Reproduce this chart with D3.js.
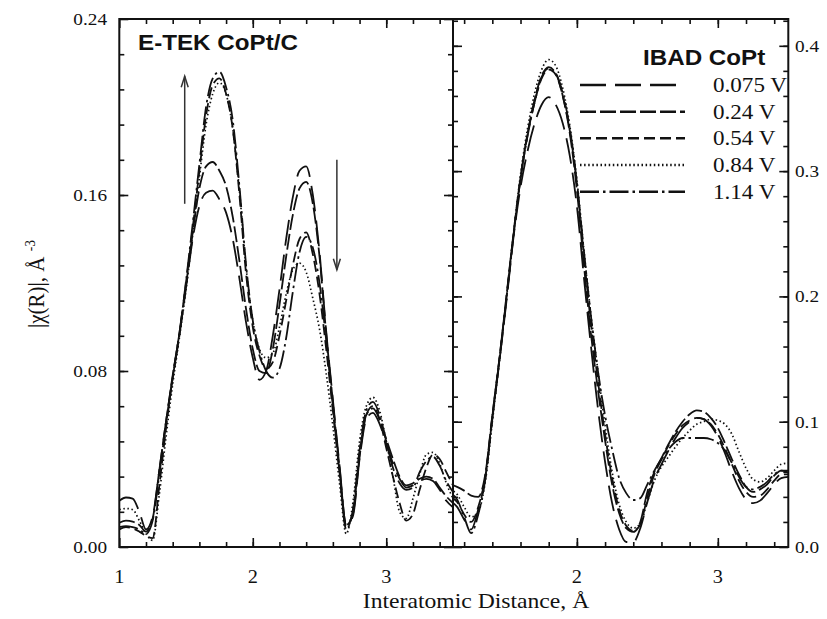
<!DOCTYPE html>
<html><head><meta charset="utf-8">
<script src="https://cdn.jsdelivr.net/npm/d3@7/dist/d3.min.js"></script>
<style>body{margin:0;background:#fff}</style>
</head><body>
<svg id="chart" width="827" height="619"></svg>
<script>
// ---------- data ----------
const seriesLabels = ["0.075 V", "0.24 V", "0.54 V", "0.84 V", "1.14 V"];

const leftX = [1.00,1.05,1.10,1.15,1.20,1.25,1.30,1.35,1.40,1.45,1.50,1.55,1.60,1.65,1.70,1.75,1.80,1.85,1.90,1.95,
  2.00,2.05,2.10,2.15,2.20,2.25,2.30,2.35,2.40,2.45,2.50,2.55,2.60,2.65,2.70,2.75,2.80,2.85,2.90,2.95,
  3.00,3.05,3.10,3.15,3.20,3.25,3.30,3.35,3.40,3.45,3.50];

const left075 = [0.021,0.0225,0.022,0.016,0.008,0.014,0.035,0.057,0.077,0.096,0.118,0.140,0.155,0.161,0.162,0.158,0.152,0.140,0.122,0.102,
  0.086,0.076,0.080,0.096,0.117,0.140,0.159,0.171,0.173,0.160,0.134,0.098,0.067,0.037,0.010,0.014,0.040,0.058,0.061,0.056,
  0.047,0.038,0.031,0.027,0.028,0.030,0.031,0.030,0.026,0.021,0.018];
const left024 = [0.011,0.012,0.0115,0.010,0.007,0.013,0.035,0.057,0.078,0.097,0.119,0.143,0.163,0.173,0.175,0.171,0.164,0.150,0.130,0.108,
  0.090,0.080,0.079,0.090,0.110,0.132,0.151,0.163,0.166,0.156,0.132,0.097,0.066,0.036,0.010,0.015,0.041,0.060,0.063,0.058,
  0.049,0.040,0.032,0.028,0.029,0.031,0.032,0.031,0.027,0.023,0.020];
const left054 = [0.008,0.009,0.0085,0.007,0.005,0.004,0.028,0.054,0.077,0.097,0.120,0.145,0.171,0.196,0.210,0.213,0.206,0.190,0.160,0.124,
  0.100,0.087,0.081,0.084,0.096,0.112,0.128,0.140,0.143,0.133,0.115,0.090,0.062,0.034,0.009,0.016,0.042,0.060,0.064,0.058,
  0.045,0.032,0.020,0.012,0.015,0.026,0.036,0.042,0.040,0.034,0.028];
const left084 = [0.017,0.0175,0.017,0.012,0.006,0.003,0.024,0.050,0.074,0.095,0.117,0.142,0.168,0.192,0.206,0.211,0.206,0.190,0.162,0.127,
  0.103,0.090,0.086,0.088,0.100,0.115,0.126,0.129,0.125,0.113,0.099,0.079,0.055,0.029,0.006,0.020,0.048,0.064,0.068,0.062,
  0.048,0.032,0.016,0.013,0.022,0.033,0.042,0.043,0.038,0.029,0.022];
const left114 = [0.009,0.0095,0.009,0.008,0.006,0.012,0.033,0.056,0.077,0.097,0.121,0.147,0.174,0.200,0.213,0.216,0.209,0.194,0.164,0.128,
  0.103,0.089,0.080,0.077,0.081,0.095,0.116,0.134,0.141,0.136,0.120,0.094,0.064,0.034,0.008,0.017,0.044,0.062,0.066,0.060,
  0.048,0.036,0.029,0.026,0.027,0.034,0.039,0.041,0.037,0.030,0.025];

const rightX = [1.10,1.15,1.20,1.25,1.30,1.35,1.40,1.45,1.50,1.55,1.60,1.65,1.70,1.75,1.80,1.85,1.90,1.95,
  2.00,2.05,2.10,2.15,2.20,2.25,2.30,2.35,2.40,2.45,2.50,2.55,2.60,2.65,2.70,2.75,2.80,2.85,2.90,2.95,
  3.00,3.05,3.10,3.15,3.20,3.25,3.30,3.35,3.40,3.45,3.50];

const right075 = [0.037,0.032,0.022,0.014,0.030,0.055,0.102,0.148,0.196,0.247,0.287,0.316,0.338,0.353,0.359,0.353,0.338,0.312,
  0.272,0.215,0.160,0.110,0.068,0.035,0.014,0.004,0.004,0.015,0.036,0.054,0.066,0.077,0.087,0.095,0.100,0.103,0.102,0.097,
  0.088,0.075,0.060,0.047,0.038,0.035,0.037,0.043,0.050,0.055,0.056];
const right024 = [0.050,0.048,0.045,0.041,0.040,0.058,0.105,0.150,0.200,0.250,0.295,0.330,0.357,0.376,0.383,0.378,0.360,0.330,
  0.285,0.225,0.170,0.125,0.085,0.050,0.027,0.015,0.012,0.020,0.044,0.060,0.071,0.082,0.092,0.100,0.106,0.109,0.108,0.103,
  0.095,0.083,0.070,0.058,0.048,0.044,0.046,0.050,0.057,0.061,0.060];
const right054 = [0.040,0.036,0.026,0.020,0.032,0.056,0.104,0.150,0.199,0.249,0.294,0.329,0.355,0.374,0.381,0.377,0.360,0.332,
  0.290,0.232,0.178,0.132,0.090,0.055,0.030,0.017,0.013,0.018,0.040,0.058,0.070,0.081,0.090,0.097,0.101,0.103,0.102,0.098,
  0.090,0.079,0.066,0.053,0.044,0.040,0.041,0.046,0.053,0.058,0.058];
const right084 = [0.046,0.042,0.032,0.024,0.028,0.052,0.100,0.148,0.198,0.250,0.297,0.334,0.362,0.381,0.389,0.384,0.366,0.336,
  0.293,0.237,0.185,0.140,0.097,0.060,0.034,0.020,0.015,0.019,0.036,0.053,0.064,0.072,0.080,0.087,0.093,0.098,0.100,0.102,
  0.101,0.098,0.090,0.076,0.063,0.054,0.052,0.055,0.061,0.066,0.067];
const right114 = [0.043,0.038,0.024,0.011,0.026,0.054,0.103,0.149,0.198,0.248,0.294,0.328,0.355,0.375,0.382,0.378,0.362,0.334,
  0.291,0.236,0.184,0.140,0.105,0.078,0.055,0.043,0.0375,0.039,0.050,0.061,0.070,0.078,0.084,0.087,0.087,0.087,0.087,0.086,
  0.083,0.077,0.067,0.056,0.048,0.046,0.048,0.052,0.058,0.061,0.061];

const leftSeries = [left075, left024, left054, left084, left114];
const rightSeries = [right075, right024, right054, right084, right114];

const leftXTicks = [1, 2, 3];
const rightXTicks = [2, 3];
const leftYTicks = [0, 0.08, 0.16, 0.24];
const leftYTickLabels = ["0.00", "0.08", "0.16", "0.24"];
const rightYTicks = [0, 0.1, 0.2, 0.3, 0.4];
const rightYTickLabels = ["0.0", "0.1", "0.2", "0.3", "0.4"];

// arrows in data units of the left panel: [x, yStart, yEnd]
const arrows = [[1.49, 0.156, 0.214], [2.63, 0.176, 0.126]];

// ---------- layout / style ----------
const dashes = ["26,9", "16,4", "11,5", "1.5,2.6", "19,4,2.5,4"];
const SERIF = "'Liberation Serif','Times New Roman',serif";
const SANS = "'Liberation Sans',Arial,sans-serif";
const SX = 1.1; // horizontal stretch of glyphs

const pTop = 19, pBottom = 547, xA = 119.3, xM = 453, xB = 788.3;
const svg = d3.select("#chart");

const xLeft = d3.scaleLinear().domain([1, 3.5]).range([xA, xM]);
const xRight = d3.scaleLinear().domain([1.121, 3.5]).range([xM, xB]);
const yLeft = d3.scaleLinear().domain([0, 0.24]).range([pBottom, pTop]);
const yRight = d3.scaleLinear().domain([0, 0.4214]).range([pBottom, pTop]);

function stext(g, x, y, str, size, anchor, family, weight) {
  return g.append("text")
    .attr("transform", `translate(${x},${y}) scale(${SX},1)`)
    .attr("text-anchor", anchor || "start")
    .attr("font-family", family || SERIF)
    .attr("font-weight", weight || "normal")
    .attr("font-size", size)
    .attr("fill", "#111")
    .text(str);
}

// clip paths
const defs = svg.append("defs");
defs.append("clipPath").attr("id", "clipL").append("rect")
  .attr("x", xA).attr("y", pTop).attr("width", xM - xA).attr("height", pBottom - pTop);
defs.append("clipPath").attr("id", "clipR").append("rect")
  .attr("x", xM).attr("y", pTop).attr("width", xB - xM).attr("height", pBottom - pTop);

// ---------- axes (ticks inward) ----------
function styleAxis(g) {
  g.select(".domain").remove();
  g.selectAll("line").attr("stroke", "#111").attr("stroke-width", 1.6);
  g.selectAll("text").remove();
}
const leftXMinor = d3.range(1.2, 3.45, 0.2);
const rightXMinor = d3.range(1.2, 3.45, 0.2);
const leftYMinor = d3.range(0.016, 0.239, 0.016);
const rightYMinor = d3.range(0.02, 0.421, 0.02);

function ticks(axisFn, scale, vals, size, tx, ty) {
  svg.append("g").attr("transform", `translate(${tx},${ty})`)
    .call(axisFn(scale).tickValues(vals).tickSize(size).tickFormat(""))
    .call(styleAxis);
}
// left panel
ticks(d3.axisBottom, xLeft, leftXMinor, -5, 0, pBottom);
ticks(d3.axisBottom, xLeft, leftXTicks, -9, 0, pBottom);
ticks(d3.axisTop, xLeft, leftXMinor, -5, 0, pTop);
ticks(d3.axisTop, xLeft, leftXTicks, -9, 0, pTop);
ticks(d3.axisLeft, yLeft, leftYMinor, -5, xA, 0);
ticks(d3.axisLeft, yLeft, leftYTicks, -9, xA, 0);
ticks(d3.axisRight, yLeft, leftYMinor, -5, xM, 0);
ticks(d3.axisRight, yLeft, leftYTicks, -9, xM, 0);
// right panel
ticks(d3.axisBottom, xRight, rightXMinor, -5, 0, pBottom);
ticks(d3.axisBottom, xRight, rightXTicks, -9, 0, pBottom);
ticks(d3.axisTop, xRight, rightXMinor, -5, 0, pTop);
ticks(d3.axisTop, xRight, rightXTicks, -9, 0, pTop);
ticks(d3.axisRight, yRight, rightYMinor, -5, xB, 0);
ticks(d3.axisRight, yRight, rightYTicks, -9, xB, 0);
ticks(d3.axisLeft, yRight, rightYMinor, -5, xM, 0);
ticks(d3.axisLeft, yRight, rightYTicks, -9, xM, 0);

// tick labels
const lab = svg.append("g");
leftXTicks.forEach(v => stext(lab, xLeft(v), 583, String(v), 18.5, "middle"));
rightXTicks.forEach(v => stext(lab, xRight(v), 583, String(v), 18.5, "middle"));
leftYTicks.forEach((v, i) => stext(lab, 107, yLeft(v) + 6, leftYTickLabels[i], 17.5, "end"));
rightYTicks.forEach((v, i) => stext(lab, 795, yRight(v) + 6, rightYTickLabels[i], 17.5, "start"));

// ---------- curves ----------
function drawPanel(xs, ys, xVals, seriesList, clip) {
  const line = d3.line().x(d => xs(d[0])).y(d => ys(d[1])).curve(d3.curveMonotoneX);
  const g = svg.append("g").attr("clip-path", `url(#${clip})`);
  seriesList.forEach((vals, i) => {
    g.append("path")
      .datum(xVals.map((x, j) => [x, vals[j]]))
      .attr("d", line)
      .attr("fill", "none")
      .attr("stroke", "#111")
      .attr("stroke-width", i === 3 ? 1.7 : 1.8)
      .attr("stroke-dasharray", dashes[i]);
  });
}
drawPanel(xLeft, yLeft, leftX, leftSeries, "clipL");
drawPanel(xRight, yRight, rightX, rightSeries, "clipR");

// ---------- frame ----------
svg.append("rect").attr("x", xA).attr("y", pTop).attr("width", xB - xA).attr("height", pBottom - pTop)
  .attr("fill", "none").attr("stroke", "#111").attr("stroke-width", 2);
svg.append("line").attr("x1", xM).attr("x2", xM).attr("y1", pTop).attr("y2", pBottom)
  .attr("stroke", "#111").attr("stroke-width", 2);

// ---------- arrows ----------
arrows.forEach(([ax, y0, y1]) => {
  const px = xLeft(ax), p0 = yLeft(y0), p1 = yLeft(y1);
  const dir = p1 < p0 ? 1 : -1;
  const g = svg.append("g").attr("stroke", "#333").attr("stroke-width", 1.5).attr("fill", "none");
  g.append("line").attr("x1", px).attr("x2", px).attr("y1", p0).attr("y2", p1);
  g.append("path").attr("d", `M${px - 3.5},${p1 + dir * 11} L${px},${p1} L${px + 3.5},${p1 + dir * 11}`);
});

// ---------- text ----------
stext(svg, 138, 50, "E-TEK CoPt/C", 22, "start", SANS, "bold");
stext(svg, 643, 65, "IBAD CoPt", 22, "start", SANS, "bold");

// legend
const legY = [85, 111.7, 138.3, 165, 191.7];
seriesLabels.forEach((s, i) => {
  svg.append("line").attr("x1", 580).attr("x2", 685).attr("y1", legY[i]).attr("y2", legY[i])
    .attr("stroke", "#111").attr("stroke-width", 2.4).attr("stroke-dasharray", dashes[i]);
  stext(svg, 713, legY[i] + 7, s, 21, "start");
});

// axis titles
stext(svg, 476, 608, "Interatomic Distance, Å", 21.5, "middle");
const yl = svg.append("text")
  .attr("transform", `translate(44,284) scale(${SX},1) rotate(-90)`)
  .attr("text-anchor", "middle").attr("font-family", SERIF).attr("font-size", 21).attr("fill", "#111");
yl.append("tspan").text("|χ(R)|, Å ");
yl.append("tspan").attr("dy", -8).attr("font-size", 13.5).text("-3");
</script>
</body></html>
